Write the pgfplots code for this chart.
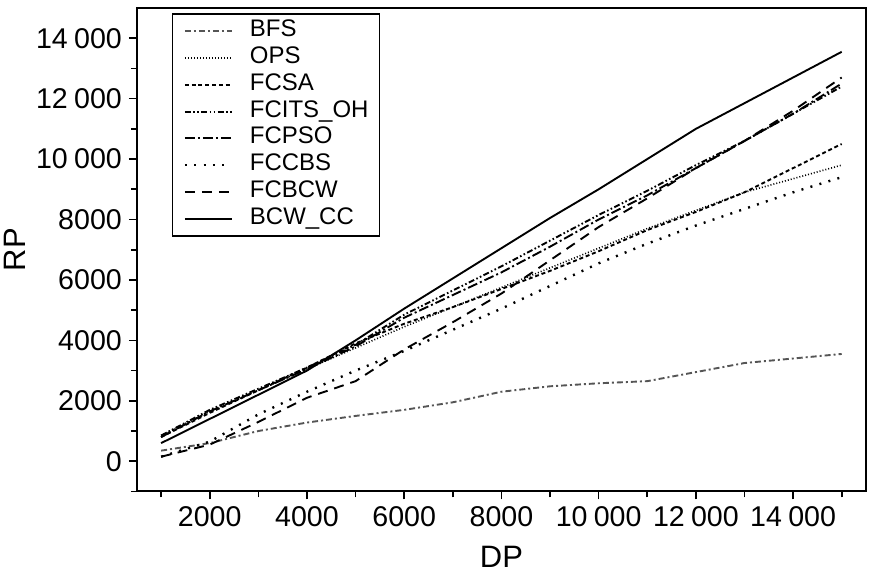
\documentclass[border=0pt]{standalone}
\usepackage{fontspec}
\setmainfont{Liberation Sans}
\usepackage{pgfplots}
\pgfplotsset{compat=1.18}
\pgfkeys{/pgf/number format/.cd, 1000 sep={\hspace{0.22em}}, min exponent for 1000 sep=4, assume math mode=true}
\definecolor{bfsgray}{RGB}{85,85,85}
\begin{document}
\begin{tikzpicture}
\begin{axis}[name=ax, scale only axis, width=365pt, height=242pt,
  xmin=500, xmax=15500, ymin=-1000, ymax=15000,
  scaled ticks=false,
  xtick={2000,4000,...,14000}, minor xtick={1000,3000,...,15000},
  ytick={0,2000,...,14000}, minor ytick={-1000,1000,...,13000},
  tick pos=left, tick align=outside,
  major tick length=4pt, minor tick length=3pt,
  every tick/.style={black, line width=0.8pt},
  axis line style={line width=1pt},
  tick label style={font=\fontsize{14.3}{16}\selectfont},
  xlabel={DP}, ylabel={RP},
  label style={font=\fontsize{15.5}{18}\selectfont},
  x label style={at={(axis description cs:0.5,-0.136)}, anchor=center},
  y label style={at={(axis description cs:-0.167,0.5)}, anchor=center},
  legend style={at={(rel axis cs:0.048,0.9896)}, anchor=north west, draw=black, line width=0.8pt,
    font=\fontsize{12}{13}\selectfont, inner xsep=5.5pt, inner ysep=3.5pt,
    nodes={inner sep=0pt, text height=8pt, text depth=2.5pt, anchor=west}, row sep=2.9pt, column sep=8.5pt},
  legend cell align=left,
  legend image code/.code={\draw[#1] (0pt,0pt) -- (23.5pt,0pt);},
  every axis plot/.append style={line width=0.95pt},
]
% BFS
\addplot[bfsgray, dash pattern=on 3pt off 1.5pt on 1pt off 1.5pt] coordinates {
(1000,350) (2000,600) (3000,1000) (4000,1280) (5000,1500) (6000,1700) (7000,1950) (8000,2300)
(9000,2480) (10000,2580) (11000,2650) (12000,2950) (13000,3250) (14000,3400) (15000,3550)};
% OPS
\addplot[black, line width=0.8pt, dash pattern=on 0.5pt off 1pt] coordinates {
(1000,850) (2000,1650) (3000,2350) (4000,3050) (5000,3750) (6000,4450) (7000,5100) (8000,5750)
(9000,6400) (10000,7050) (11000,7700) (12000,8300) (13000,8900) (14000,9350) (15000,9800)};
% FCSA
\addplot[black, dash pattern=on 2pt off 1.4pt] coordinates {
(1000,800) (2000,1600) (3000,2350) (4000,3100) (5000,3900) (6000,4550) (7000,5100) (8000,5700)
(9000,6300) (10000,6950) (11000,7650) (12000,8250) (13000,8900) (14000,9700) (15000,10500)};
% FCITS_OH
\addplot[black, dash pattern=on 3pt off 1.2pt on 0.8pt off 1.2pt on 0.8pt off 1.2pt] coordinates {
(1000,850) (2000,1700) (3000,2400) (4000,3100) (5000,3850) (6000,4850) (7000,5650) (8000,6450)
(9000,7300) (10000,8150) (11000,8950) (12000,9800) (13000,10600) (14000,11500) (15000,12400)};
% FCPSO
\addplot[black, dash pattern=on 5pt off 1.5pt on 1pt off 1.5pt] coordinates {
(1000,800) (2000,1650) (3000,2350) (4000,3050) (5000,3800) (6000,4750) (7000,5500) (8000,6250)
(9000,7100) (10000,8000) (11000,8800) (12000,9700) (13000,10600) (14000,11500) (15000,12500)};
% FCCBS
\addplot[black, line width=1.2pt, dash pattern=on 1pt off 3.7pt] coordinates {
(1000,150) (2000,650) (3000,1550) (4000,2300) (5000,3000) (6000,3650) (7000,4350) (8000,5050)
(9000,5800) (10000,6550) (11000,7200) (12000,7800) (13000,8350) (14000,8900) (15000,9400)};
% FCBCW
\addplot[black, dash pattern=on 5pt off 3.5pt] coordinates {
(1000,150) (2000,550) (3000,1300) (4000,2100) (5000,2650) (6000,3700) (7000,4600) (8000,5550)
(9000,6650) (10000,7750) (11000,8700) (12000,9700) (13000,10600) (14000,11600) (15000,12700)};
% BCW_CC
\addplot[black, solid] coordinates {
(1000,600) (2000,1400) (3000,2200) (4000,3000) (5000,4000) (6000,5050) (7000,6050) (8000,7050)
(9000,8050) (10000,9000) (11000,10000) (12000,11000) (13000,11850) (14000,12700) (15000,13550)};
\legend{BFS,OPS,FCSA,FCITS\_OH,FCPSO,FCCBS,FCBCW,BCW\_CC}
\end{axis}
\pgfresetboundingbox
\path ([shift={(-68.5pt,-41pt)}]ax.south west) rectangle ([shift={(1.5pt,4pt)}]ax.north east);
\end{tikzpicture}
\end{document}
